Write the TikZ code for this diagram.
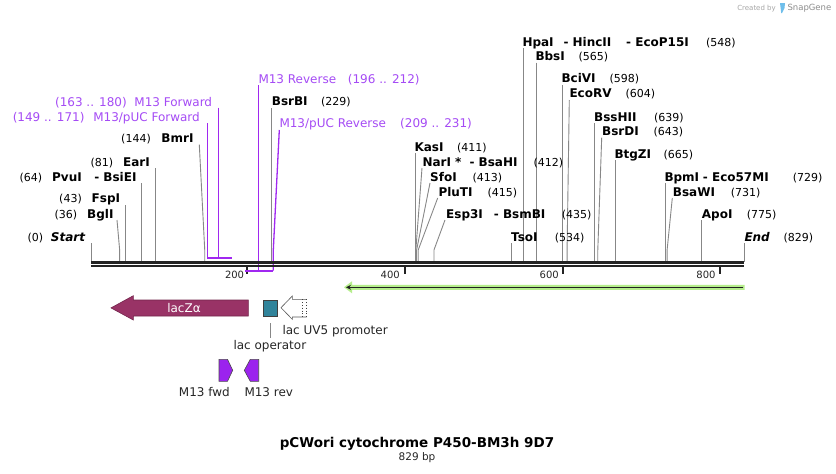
\documentclass[tikz,border=0pt]{standalone}
\usepackage{fontspec}
\setmainfont{DejaVu Sans}
\usetikzlibrary{arrows.meta}
\definecolor{cutgray}{RGB}{135,135,135}
\definecolor{primer}{RGB}{160,40,240}
\definecolor{primertxt}{RGB}{165,75,245}
\definecolor{lacz}{RGB}{153,51,102}
\definecolor{oper}{RGB}{49,132,155}
\definecolor{mfeat}{RGB}{155,35,238}
\definecolor{glow}{RGB}{182,238,140}
\definecolor{bb}{RGB}{34,34,34}
\definecolor{snapblue}{RGB}{110,190,235}
\newcommand\bpx[1]{91.3+#1*0.7877}
\begin{document}
\begin{tikzpicture}[x=1pt,y=-1pt,
  nm/.style={font=\fontsize{12}{14}\selectfont\bfseries, inner sep=0pt},
  nmi/.style={font=\fontsize{12}{14}\selectfont\bfseries\itshape, inner sep=0pt},
  num/.style={font=\fontsize{11}{13}\selectfont, inner sep=0pt},
  ptxt/.style={font=\fontsize{12}{14}\selectfont, text=primertxt, inner sep=0pt},
  ftxt/.style={font=\fontsize{12}{14}\selectfont, inner sep=0pt, text=black!85},
  tk/.style={font=\fontsize{10}{12}\selectfont, inner sep=0pt, text=black!85},
  cut/.style={draw=cutgray, line width=0.9pt},
  pline/.style={draw=primer, line width=1.3pt},
  pbar/.style={draw=primer, line width=2.2pt},
  bw/.style={anchor=base west},
  be/.style={anchor=base east},
]
\useasboundingbox (0,0) rectangle (836,474);
\fill[white] (0,0) rectangle (836,474);

% ---------- cut-site lines ----------
\draw[cut] (91.3,243) -- (91.3,262);
\draw[cut] (117,220) -- ({\bpx{36}},250) -- ({\bpx{36}},262);
\draw[cut] ({\bpx{43}},205) -- ({\bpx{43}},262);
\draw[cut] ({\bpx{64}},183) -- ({\bpx{64}},262);
\draw[cut] ({\bpx{81}},168) -- ({\bpx{81}},262);
\draw[cut] (199.3,144.7) -- ({\bpx{144}},250) -- ({\bpx{144}},262);
\draw[cut] ({\bpx{229}},108) -- ({\bpx{229}},262);
\draw[cut] ({\bpx{411}},153) -- ({\bpx{411}},262);
\draw[cut] (422,168) -- ({\bpx{412}},250) -- ({\bpx{412}},262);
\draw[cut] (430,183) -- ({\bpx{413}},250) -- ({\bpx{413}},262);
\draw[cut] (437.7,198) -- ({\bpx{415}},250) -- ({\bpx{415}},262);
\draw[cut] (445,220) -- ({\bpx{435}},250) -- ({\bpx{435}},262);
\draw[cut] ({\bpx{534}},243) -- ({\bpx{534}},262);
\draw[cut] ({\bpx{548}},48) -- ({\bpx{548}},262);
\draw[cut] ({\bpx{565}},62.7) -- ({\bpx{565}},262);
\draw[cut] ({\bpx{598}},85) -- ({\bpx{598}},262);
\draw[cut] (569.3,100) -- ({\bpx{604}},250) -- ({\bpx{604}},262);
\draw[cut] ({\bpx{639}},123) -- ({\bpx{639}},262);
\draw[cut] (601.7,137.7) -- ({\bpx{643}},250) -- ({\bpx{643}},262);
\draw[cut] ({\bpx{665}},160) -- ({\bpx{665}},262);
\draw[cut] ({\bpx{729}},183) -- ({\bpx{729}},262);
\draw[cut] (672.3,198) -- ({\bpx{731}},250) -- ({\bpx{731}},262);
\draw[cut] ({\bpx{775}},220) -- ({\bpx{775}},262);
\draw[cut] (744.3,243) -- (744.3,262);

% ---------- primer lines ----------
\draw[pline] (207.3,123.3) -- (207.3,257.7);
\draw[pline] (218.7,107.7) -- (218.7,257.7);
\draw[pline] (258.3,85) -- (258.3,270.7);
\draw[pline] (279.3,130) -- (273.3,250) -- (273.3,270.7);

% ---------- backbone and ticks ----------
\draw[bb, line width=2.7pt] (91.3,262.35) -- (744.3,262.35);
\draw[bb, line width=2.7pt] (91.3,266) -- (744.3,266);
\foreach \tx in {247.3,405,563.3,720} \draw[bb, line width=1.8pt] (\tx,267) -- (\tx,274);
\node[tk,be] (t200) at (244.3,278) {200};
\node[tk,be] (t400) at (400,278) {400};
\node[tk,be] (t600) at (559,278) {600};
\node[tk,be] (t800) at (715.7,278) {800};

% ---------- primer bars ----------
\draw[pbar] (207.3,257.7) -- (226,257.7);
\draw[pbar] (218.7,257.7) -- (232,257.7);
\draw[pbar] (245.4,270.7) -- (258.3,270.7);
\draw[pbar] (255.6,270.7) -- (273.3,270.7);

% ---------- left labels ----------
\node[nmi,be] (start) at (85.3,241) {Start};
\node[num,be] (startn) at (43.3,241) {(0)};
\node[nm,be] (bgl) at (113.7,218) {BglI};
\node[num,be] (bgln) at (77.3,218) {(36)};
\node[nm,be] (fsp) at (120.3,202.7) {FspI};
\node[num,be] (fspn) at (82,202.7) {(43)};
\node[nm,be] (bsie) at (136.7,181) {- BsiEI};
\node[nm,be] (pvu) at (82,181) {PvuI};
\node[num,be] (pvun) at (42.3,181) {(64)};
\node[nm,be] (ear) at (150,166) {EarI};
\node[num,be] (earn) at (113.3,166) {(81)};
\node[nm,be] (bmr) at (193.7,142.7) {BmrI};
\node[num,be] (bmrn) at (151,142.7) {(144)};

% ---------- primer labels ----------
\node[ptxt,be] (mpf) at (200,121) {M13/pUC Forward};
\node[ptxt,be] (mpfn) at (84.7,121) {(149 .. 171)};
\node[ptxt,be] (mf) at (212.3,106) {M13 Forward};
\node[ptxt,be] (mfn) at (127,106) {(163 .. 180)};
\node[ptxt,bw] (mr) at (258.3,83) {M13 Reverse};
\node[ptxt,bw] (mrn) at (347.7,83) {(196 .. 212)};
\node[ptxt,bw] (mpr) at (279.3,127.7) {M13/pUC Reverse};
\node[ptxt,bw] (mprn) at (400,127.7) {(209 .. 231)};

% ---------- right labels ----------
\node[nm,bw] (bsrb) at (271.7,105.7) {BsrBI};
\node[num,bw] (bsrbn) at (321,105.7) {(229)};
\node[nm,bw] (kas) at (414.3,151) {KasI};
\node[num,bw] (kasn) at (457,151) {(411)};
\node[nm,bw] (nar) at (422.3,166) {NarI *};
\node[nm,bw] (bsah) at (469.3,166) {- BsaHI};
\node[num,bw] (narn) at (533.3,166) {(412)};
\node[nm,bw] (sfo) at (430,181) {SfoI};
\node[num,bw] (sfon) at (472.3,181) {(413)};
\node[nm,bw] (plu) at (438.3,196) {PluTI};
\node[num,bw] (plun) at (487.3,196) {(415)};
\node[nm,bw] (esp) at (446,218) {Esp3I};
\node[nm,bw] (bsmb) at (493.7,218) {- BsmBI};
\node[num,bw] (espn) at (561.7,218) {(435)};
\node[nm,bw] (tso) at (511,241) {TsoI};
\node[num,bw] (tson) at (554.7,241) {(534)};
\node[nm,bw] (hpa) at (522.3,46) {HpaI};
\node[nm,bw] (hinc) at (563.3,46) {- HincII};
\node[nm,bw] (ecop) at (626,46) {- EcoP15I};
\node[num,bw] (hpan) at (706,46) {(548)};
\node[nm,bw] (bbs) at (535.3,60.7) {BbsI};
\node[num,bw] (bbsn) at (578.3,60.7) {(565)};
\node[nm,bw] (bci) at (561.3,82.7) {BciVI};
\node[num,bw] (bcin) at (609.3,82.7) {(598)};
\node[nm,bw] (ecorv) at (569.3,97.7) {EcoRV};
\node[num,bw] (ecorvn) at (625.3,97.7) {(604)};
\node[nm,bw] (bss) at (594,121) {BssHII};
\node[num,bw] (bssn) at (654,121) {(639)};
\node[nm,bw] (bsrd) at (602,135.7) {BsrDI};
\node[num,bw] (bsrdn) at (653.3,135.7) {(643)};
\node[nm,bw] (btg) at (614.3,158) {BtgZI};
\node[num,bw] (btgn) at (663.3,158) {(665)};
\node[nm,bw] (bpm) at (664.3,181) {BpmI};
\node[nm,bw] (eco57) at (702.7,181) {- Eco57MI};
\node[num,bw] (bpmn) at (792.7,181) {(729)};
\node[nm,bw] (bsaw) at (672.7,196) {BsaWI};
\node[num,bw] (bsawn) at (730.7,196) {(731)};
\node[nm,bw] (apo) at (701.7,218) {ApoI};
\node[num,bw] (apon) at (746.7,218) {(775)};
\node[nmi,bw] (endl) at (744.3,241) {End};
\node[num,bw] (endn) at (783.3,241) {(829)};

% ---------- green ORF arrow ----------
\fill[glow] (344,287.3) -- (352,281.3) -- (352,284.8) -- (744.6,284.8) -- (744.6,289.8) -- (352,289.8) -- (352,293.3) -- cycle;
\draw[bb, line width=1.6pt, -{Stealth[length=5pt,width=5pt]}] (743.3,287.3) -- (346,287.3);

% ---------- features ----------
\filldraw[fill=lacz, draw=lacz!75!black, line width=0.6pt] (111,307.9) -- (133.3,295.7) -- (133.3,300) -- (248.3,300) -- (248.3,316) -- (133.3,316) -- (133.3,320) -- cycle;
\node[font=\fontsize{12}{14}\selectfont, text=white, inner sep=0pt] (laczlbl) at (184,307.9) {lacZα};
\filldraw[fill=oper, draw=black!75, line width=0.6pt] (263.3,300.7) rectangle (277.7,316);
\coordinate (optop) at (270.3,323.3);
\coordinate (opbot) at (270.3,338.3);
\draw[cutgray, line width=0.8pt] (optop) -- (opbot);
\node[ftxt,bw] (oplbl) at (233.3,349) {lac operator};
\draw[fill=white, draw=black!65, line width=0.6pt] (306.7,317) -- (292.3,317) -- (292.3,319.3) -- (281,307.7) -- (292.3,296) -- (292.3,299.3) -- (306.7,299.3);
\draw[black!75, line width=0.8pt, dotted] (306.7,299.3) -- (306.7,317);
\draw[black!75, line width=0.8pt, dotted] (302.7,299.3) -- (302.7,317);
\node[ftxt,bw] (promlbl) at (282.3,334) {lac UV5 promoter};
\filldraw[fill=mfeat, draw=black!70, line width=0.6pt] (219,359.3) -- (227.5,359.3) -- (232.7,370.3) -- (227.5,381.3) -- (219,381.3) -- cycle;
\filldraw[fill=mfeat, draw=black!70, line width=0.6pt] (258.7,359.3) -- (250.3,359.3) -- (244.3,370.3) -- (250.3,381.3) -- (258.7,381.3) -- cycle;
\node[ftxt,bw] (fwdlbl) at (178.7,396.7) {M13 fwd};
\node[ftxt,bw] (revlbl) at (244.3,396.7) {M13 rev};

% ---------- title ----------
\node[font=\fontsize{13.5}{16}\selectfont\bfseries, inner sep=0pt, anchor=base] (title) at (417,447.3) {pCWori cytochrome P450-BM3h 9D7};
\node[font=\fontsize{10.5}{12}\selectfont, inner sep=0pt, anchor=base, text=black!85] (bp) at (417,460) {829 bp};

% ---------- credit ----------
\node[font=\fontsize{7}{8}\selectfont, text=black!35, inner sep=0pt, anchor=base east] (created) at (776,10) {Created by};
\fill[snapblue] (780,3) -- (785,3) -- (784.5,8) -- (782,13) -- (781.2,13) -- (780.6,8) -- cycle;
\node[font=\fontsize{8.5}{10}\selectfont, text=black!45, inner sep=0pt, anchor=base west] (snap) at (787.3,10.5) {SnapGene};
\end{tikzpicture}
\end{document}
